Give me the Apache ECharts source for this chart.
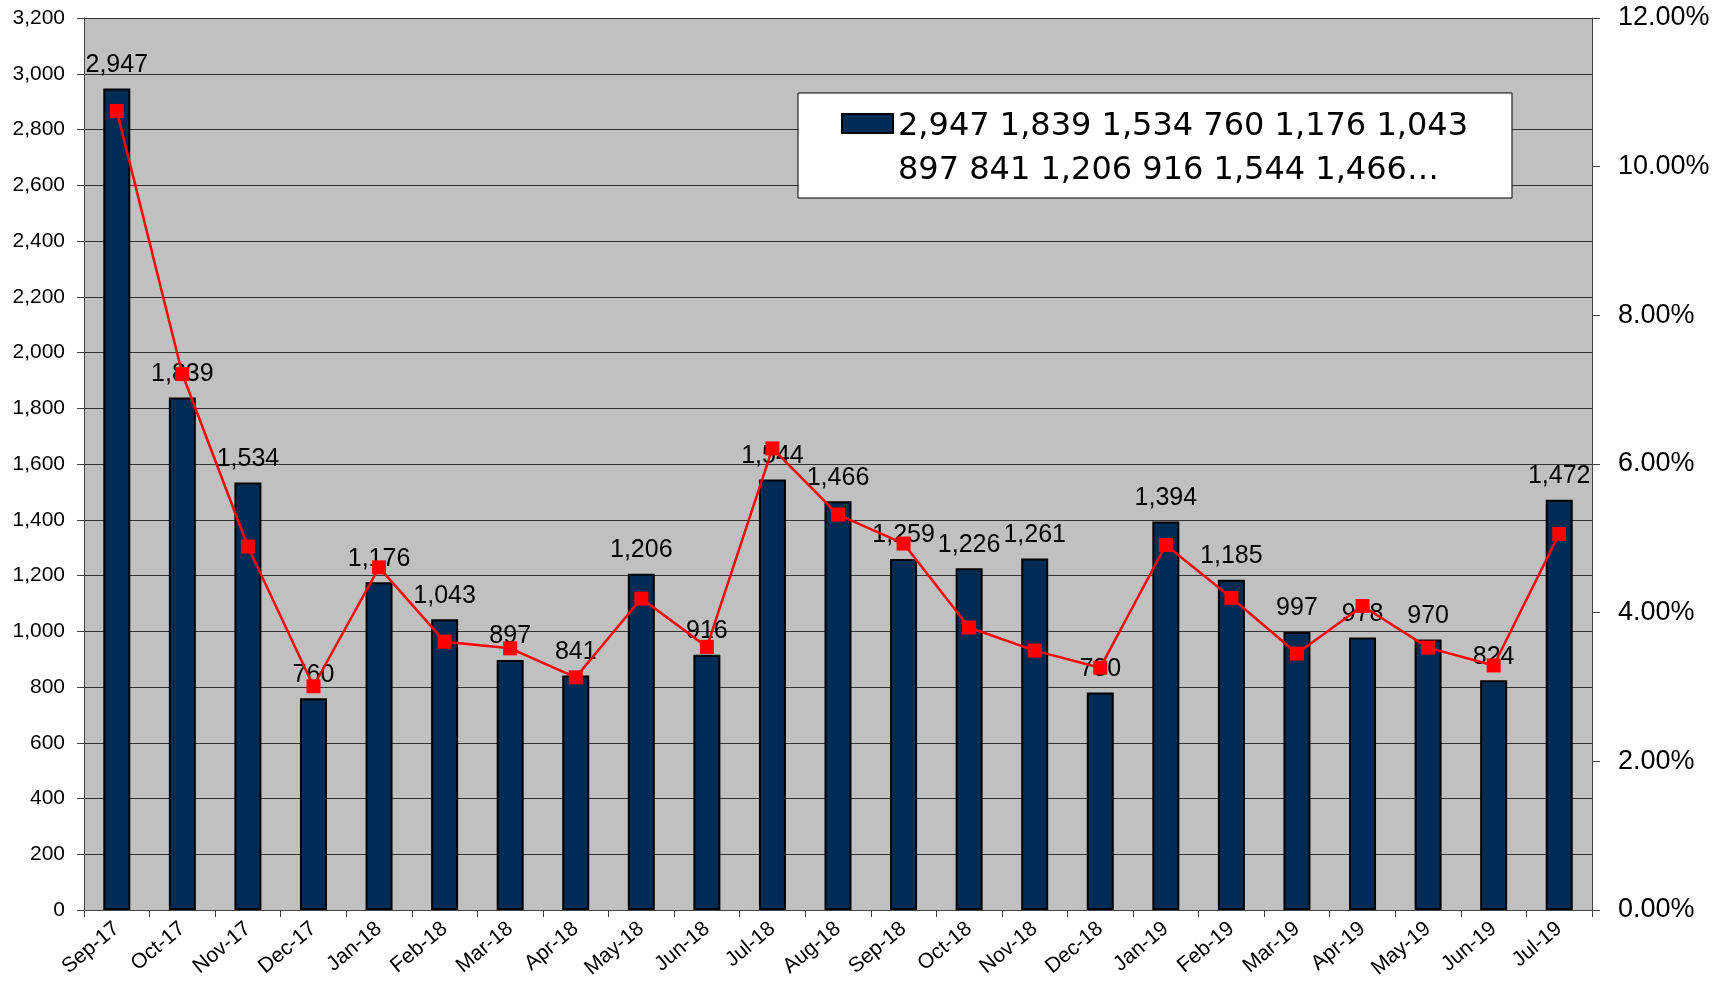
<!DOCTYPE html>
<html>
<head>
<meta charset="utf-8">
<script src="https://cdn.jsdelivr.net/npm/echarts@6/dist/echarts.min.js"></script>
<style>
html,body{margin:0;padding:0;background:#fff;}
#c{width:1718px;height:981px;}
</style>
</head>
<body>
<div id="c"></div>
<script>
const categories = ['Sep-17','Oct-17','Nov-17','Dec-17','Jan-18','Feb-18','Mar-18','Apr-18','May-18','Jun-18','Jul-18','Aug-18','Sep-18','Oct-18','Nov-18','Dec-18','Jan-19','Feb-19','Mar-19','Apr-19','May-19','Jun-19','Jul-19'];
const counts = [2947,1839,1534,760,1176,1043,897,841,1206,916,1544,1466,1259,1226,1261,780,1394,1185,997,978,970,824,1472];
const rates = [10.75,7.21,4.89,3.01,4.61,3.61,3.52,3.13,4.19,3.54,6.21,5.32,4.93,3.80,3.49,3.26,4.91,4.20,3.45,4.09,3.53,3.29,5.06];
const barLegendName = '2,947 1,839 1,534 760 1,176 1,043\n897 841 1,206 916 1,544 1,466…';
const lineName = 'Rate';
const leftAxisTicks = {min: 0, max: 3200, interval: 200};
const rightAxisTicks = {min: 0, max: 12, interval: 2};

const FONT = "'Liberation Sans', Arial, sans-serif";
const chart = echarts.init(document.getElementById('c'), null, {renderer: 'canvas'});

chart.setOption({
  animation: false,
  backgroundColor: '#ffffff',
  textStyle: {fontFamily: FONT},
  grid: {
    left: 84, right: 126, top: 18, bottom: 69,
    show: true, backgroundColor: '#C0C0C0', borderWidth: 0
  },
  legend: {
    data: [{name: barLegendName, icon: 'path://M0,0L51,0L51,19L0,19Z M0,70'}],
    left: 798, top: 93,
    itemWidth: 51, itemHeight: 70,
    backgroundColor: '#ffffff', borderColor: '#000000', borderWidth: 1, borderRadius: 0,
    padding: [12, 44, 5, 43],
    selectedMode: false,
    textStyle: {fontFamily: "'DejaVu Sans', sans-serif", fontSize: 32, lineHeight: 44, color: '#000'}
  },
  xAxis: {
    type: 'category',
    data: categories,
    boundaryGap: true,
    axisLine: {show: true, lineStyle: {color: '#444', width: 1}},
    axisTick: {show: true, length: 7, lineStyle: {color: '#444'}},
    axisLabel: {interval: 0, rotate: 40, margin: 16, fontSize: 21, color: '#000', fontFamily: FONT}
  },
  yAxis: [
    {
      type: 'value',
      min: leftAxisTicks.min, max: leftAxisTicks.max, interval: leftAxisTicks.interval,
      axisLine: {show: true, lineStyle: {color: '#444', width: 1}},
      axisTick: {show: true, length: 7, lineStyle: {color: '#444'}},
      axisLabel: {margin: 19, fontSize: 21, color: '#000', fontFamily: FONT,
        formatter: v => v.toLocaleString('en-US')},
      splitLine: {show: true, lineStyle: {color: '#333', width: 1}}
    },
    {
      type: 'value',
      position: 'right',
      min: rightAxisTicks.min, max: rightAxisTicks.max, interval: rightAxisTicks.interval,
      axisLine: {show: true, lineStyle: {color: '#444', width: 1}},
      axisTick: {show: true, length: 8, lineStyle: {color: '#444'}},
      axisLabel: {margin: 26, fontSize: 27, color: '#000', fontFamily: FONT,
        formatter: v => v.toFixed(2) + '%'},
      splitLine: {show: false}
    }
  ],
  series: [
    {
      name: barLegendName,
      type: 'bar',
      data: counts,
      barWidth: 27,
      itemStyle: {color: '#002B54', borderColor: '#000', borderWidth: 2},
      label: {
        show: true, position: 'top', distance: 11,
        fontSize: 25, color: '#000', fontFamily: FONT,
        formatter: p => p.value.toLocaleString('en-US')
      }
    },
    {
      name: lineName,
      type: 'line',
      yAxisIndex: 1,
      data: rates,
      symbol: 'rect',
      symbolSize: 14,
      lineStyle: {color: '#FF0000', width: 2.5},
      itemStyle: {color: '#FF0000'}
    }
  ]
});
</script>
</body>
</html>
